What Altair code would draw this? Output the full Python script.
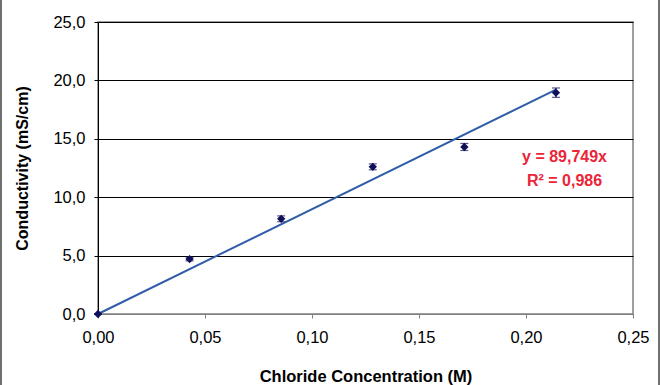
import altair as alt
import pandas as pd

conc = [0.0, 0.0428, 0.0856, 0.1284, 0.1712, 0.214]
cond = [0.0, 4.7, 8.15, 12.6, 14.3, 18.95]
err = [0.0, 0.15, 0.25, 0.25, 0.3, 0.4]
slope = 89.749
fit_x = [0.0, 0.214]
eq_text = ["y = 89,749x", "R² = 0,986"]
eq_x = [0.218, 0.218]
eq_y = [13.45, 11.4]

df = pd.DataFrame({"x": conc, "y": cond, "lo": [c - e for c, e in zip(cond, err)],
                   "hi": [c + e for c, e in zip(cond, err)]})
fit = pd.DataFrame({"x": fit_x, "y": [slope * v for v in fit_x]})
ann = pd.DataFrame({"x": eq_x, "y": eq_y, "t": eq_text})

FONT = "Liberation Sans"
xs = alt.Scale(domain=[0, 0.25], nice=False, zero=True)
ys = alt.Scale(domain=[0, 25], nice=False)

xax = alt.Axis(values=[0, 0.05, 0.1, 0.15, 0.2, 0.25],
               labelExpr="replace(format(datum.value, '.2f'), '.', ',')",
               grid=False, domainColor="#808080", tickColor="#808080", tickSize=4,
               labelFontSize=16.5, labelColor="black", labelPadding=11, labelFont=FONT,
               labelFlush=False, labelOverlap=False,
               title="Chloride Concentration (M)", titleFont=FONT, titleFontSize=16.5,
               titleFontWeight="bold", titleColor="black",
               titleY=62, titleBaseline="middle")
yax = alt.Axis(values=[0, 5, 10, 15, 20, 25],
               labelExpr="replace(format(datum.value, '.1f'), '.', ',')",
               grid=True, gridColor="black", gridOpacity=1, gridWidth=1,
               domainColor="black", tickColor="black", tickSize=4,
               labelFontSize=16.5, labelColor="black", labelPadding=9, labelFont=FONT,
               labelFlush=False, labelOverlap=False,
               title="Conductivity (mS/cm)", titleFont=FONT, titleFontSize=16,
               titleFontWeight="bold", titleColor="black",
               titleX=-76, titleBaseline="middle", titleAngle=270)

base = alt.Chart(df)
bars = base.mark_errorbar(ticks=alt.MarkConfig(size=8, color="#10105a"), color="#10105a", thickness=1.2).encode(
    x=alt.X("x:Q", scale=xs, axis=xax),
    y=alt.Y("lo:Q", scale=ys, axis=yax),
    y2="hi:Q",
)
line = alt.Chart(fit).mark_line(color="#2f5da8", strokeWidth=2).encode(
    x=alt.X("x:Q", scale=xs), y=alt.Y("y:Q", scale=ys))
pts = base.mark_point(shape="diamond", filled=True, color="#10105a", size=70, opacity=1).encode(
    x=alt.X("x:Q", scale=xs), y=alt.Y("y:Q", scale=ys))
txt = alt.Chart(ann).mark_text(color="#ec2438", fontWeight="bold", fontSize=16, font=FONT,
                               align="center", baseline="middle").encode(
    x=alt.X("x:Q", scale=xs), y=alt.Y("y:Q", scale=ys), text="t:N")
frame = alt.Chart(pd.DataFrame({"a": [0]})).mark_rule(color="#707070", strokeWidth=2).encode(
    x=alt.value(-97), y=alt.value(-22), y2=alt.value(363))
frame2 = alt.Chart(pd.DataFrame({"a": [0]})).mark_rule(color="#707070", strokeWidth=2).encode(
    x=alt.value(561), y=alt.value(-22), y2=alt.value(363))

chart = alt.layer(bars, line, pts, txt, frame, frame2).properties(
    width=535, height=292,
    autosize=alt.AutoSizeParams(type="none"),
    padding={"left": 98, "top": 22, "right": 27, "bottom": 71},
    background="white",
).configure_view(stroke="#808080", strokeWidth=1.5, clip=False)

chart.save("out.html", embed_options={"renderer": "svg", "actions": False})
